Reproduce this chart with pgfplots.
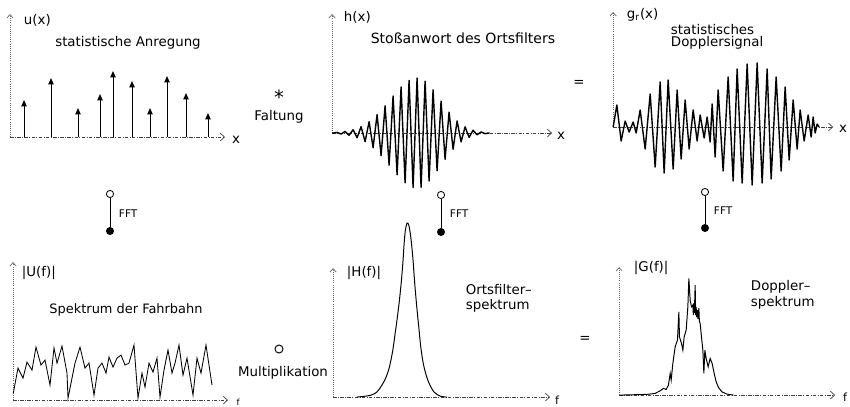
\documentclass[border=0pt]{standalone}
\usepackage{pgfplots}
\pgfplotsset{compat=1.18}
\usepackage{fontspec}
\setmainfont{DejaVu Sans}
\usetikzlibrary{arrows.meta}
\newcommand{\lab}{\fontsize{9.5}{11}\selectfont}
\pgfplotsset{panel/.style={
  anchor=origin, x=0.025cm, y=0.025cm, xmin=0, ymin=0, clip=false,
  axis lines=middle, ticks=none,
  x axis line style={black!75, line width=0.5pt, dash pattern=on 2.5pt off 1pt on 0.6pt off 1pt, -{Straight Barb[length=3pt,width=5.5pt]}},
  y axis line style={black!60, line width=0.5pt, densely dotted, -{Straight Barb[length=2.5pt,width=4.5pt]}},
}}
\begin{document}
\begin{tikzpicture}[x=0.025cm, y=-0.025cm]
\useasboundingbox (0,0) rectangle (850,407);
% ---------- u(x)
\begin{axis}[panel, at={(0.25cm,-3.425cm)}, xmax=215, ymax=123]
\addplot[black, line width=0.7pt, quiver={u=0,v=\thisrow{h}}, -{Triangle[length=4.5pt,width=3.8pt]}] table {
x y h
14 0 37
41 0 59
68 0 29
90 0 43
103 0 66
122 0 56
140 0 29
157 0 61
176 0 44
198 0 24
};
\end{axis}
% ---------- h(x)
\begin{axis}[panel, at={(8.3cm,-3.325cm)}, xmax=220, ymax=119]
\addplot[black, line width=1.0pt, line join=round] table {
x y
0 0
1 0
5 0.6
9 -1.0
13 1.6
17 -2.3
21 3.3
25 -4.7
29 6.4
33 -8.6
37 11.3
41 -14.6
45 18.4
49 -22.6
53 27.2
57 -32.1
61 37.0
65 -41.8
69 46.1
73 -49.8
77 52.6
81 -54.4
85 55
89 -54.2
93 51.8
97 -48.0
101 43.2
105 -37.7
109 31.9
113 -26.2
117 20.9
121 -16.2
125 12.1
129 -8.8
133 6.2
137 -4.3
141 2.8
145 -1.8
149 1.1
153 -0.7
157 0
155 0
};
\end{axis}
% ---------- g_r(x)
\begin{axis}[panel, at={(15.325cm,-3.175cm)}, xmax=220, ymax=115]
\addplot[black, line width=1.0pt, line join=round] table {
x y
0 0
3.7 22
8 -14
12 6
16 -5
20 5
23 -6
27 17
32 -22
37 33
42 -40
47 45
51 -46
55 47
60 -42
64 37
68 -32
72 27
76 -22
80 17
84 -14
87 12
91 -11
94 10
97 -15
99 23
102 -30
105 37
110 -44
115 50
120 -54
124 58
129 -56
134 63
139 -58
144 64
149 -56
154 58
158 -52
163 50
168 -44
172 40
176 -33
180 27
184 -22
187 17
191 -14
195 12
198 -10
200 10
202 -6
204 3
206 0
};
\end{axis}
% ---------- |U(f)|
\begin{axis}[panel, at={(0.325cm,-10cm)}, xmax=215, ymax=138]
\addplot[black, line width=0.6pt] table {
x y
0.3 7
5 32
10 22
14 38
19 30
23 53
28 35
32 40
37 15
41 52
44 37
49 54
54 27
55 2
62 37
67 53
72 32
76 37
81 5
85 32
89 37
93 27
96 43
100 33
104 42
108 45
112 35
116 37
121 55
125 2
129 27
132 13
136 37
140 28
144 42
147 3
151 30
155 50
159 27
162 37
166 55
170 25
174 42
180 5
184 42
188 27
193 55
199 15
};
\end{axis}
% ---------- |H(f)|
\begin{axis}[panel, at={(8.325cm,-9.925cm)}, xmax=217, ymax=129]
\addplot[black, line width=0.7pt, smooth, tension=0.5] table {
x y
23.7 0
37 1.7
43.7 5
48.7 11.7
53 20
56.3 30
59.7 46.7
62 63.3
64.3 80
66.3 96.7
68 113
69.7 133
71 153
72.3 167
74 174
75.7 172
77.7 160
79.7 140
81.7 113
83.7 90
85.7 70
87.7 50
90.3 33
93.7 20
97 11.7
101 5
107 1
113.7 0
};
\end{axis}
% ---------- |G(f)|
\begin{axis}[panel, at={(15.475cm,-9.875cm)}, xmax=216, ymax=128]
\addplot[black, line width=0.7pt] table {
x y
1 0
27.7 0.7
36 1.7
41 4.3
44.3 6.7
47 5.7
49.3 10
51 21.7
52 15
53.7 31.7
56 48.3
58.3 55
59.7 83.3
60.3 58.3
62.3 51.7
63.7 45
65 58.3
67 65
68.7 88.3
69.7 116.7
71 95
72.3 88.3
73.7 90
74.2 80
74.7 92
75.2 82
76 110
76.5 80
77 88
77.5 78
78.3 85
78.8 76
79.7 87
80.2 74
81 71.7
82.3 58.3
83.7 45
84.7 21.7
85.7 45
87 36.7
89 28.3
91 36.7
93 31.7
95 21.7
97 13.3
99.3 7.7
102.7 3.3
107.7 1
114.3 0
};
\end{axis}
% ---------- texts
\node[font=\lab, anchor=west] at (19,20) {u(x)};
\node[font=\lab] at (128,43) {statistische Anregung};
\node[font=\fontsize{14}{14}\selectfont, inner sep=0pt] at (279,97) {*};
\node[font=\lab, inner sep=1pt] at (279,117) {Faltung};
\node[font=\lab] at (236,140) {x};
\node[font=\lab, anchor=west] at (339,17) {h(x)};
\node[font=\fontsize{10}{12}\selectfont] at (463,38) {Stoßanwort des Ortsfilters};
\node[font=\lab] at (561,136) {x};
\node[font=\lab] at (579,83) {=};
\node[font=\lab, anchor=west] at (622,15) {g\textsubscript{r}(x)};
\node[font=\lab, anchor=west] at (666,30) {statistisches};
\node[font=\lab, anchor=west] at (666,43) {Dopplersignal};
\node[font=\lab] at (843,129) {x};
% FFT symbols
\draw[line width=0.6pt] (110,194) circle[radius=0.09cm];
\draw[line width=0.5pt] (110,197.6) -- (110,227);
\fill (110,231) circle[radius=0.1cm];
\node[font=\fontsize{7.5}{9}\selectfont, anchor=west] at (114,214) {FFT};
\draw[line width=0.6pt] (441,195) circle[radius=0.09cm];
\draw[line width=0.5pt] (441,198.6) -- (441,228);
\fill (441,232) circle[radius=0.1cm];
\node[font=\fontsize{7.5}{9}\selectfont, anchor=west] at (445,214) {FFT};
\draw[line width=0.6pt] (705,192) circle[radius=0.09cm];
\draw[line width=0.5pt] (705,195.6) -- (705,224);
\fill (705,228) circle[radius=0.1cm];
\node[font=\fontsize{7.5}{9}\selectfont, anchor=west] at (709,211) {FFT};
% bottom row texts
\node[font=\lab, anchor=west] at (17,273) {|U(f)|};
\node[font=\fontsize{9.2}{11}\selectfont] at (126,310) {Spektrum der Fahrbahn};
\node[font=\fontsize{6}{7}\selectfont, inner sep=0.5pt] at (238,402) {f};
\draw[line width=0.7pt] (279,349) circle[radius=0.1cm];
\node[font=\lab] at (283,373) {Multiplikation};
\node[font=\lab, anchor=west] at (342,273) {|H(f)|};
\node[font=\lab, anchor=west] at (461,290) {Ortsfilter--};
\node[font=\lab, anchor=west] at (461,306) {spektrum};
\node[font=\fontsize{8}{9}\selectfont, inner sep=1pt] at (557,400) {f};
\node[font=\lab] at (585,339) {=};
\node[font=\lab, anchor=west] at (629,268) {|G(f)|};
\node[font=\lab, anchor=west] at (746,287) {Doppler--};
\node[font=\lab, anchor=west] at (746,303) {spektrum};
\node[font=\fontsize{8}{9}\selectfont, inner sep=1pt] at (845,397) {f};
\end{tikzpicture}
\end{document}
